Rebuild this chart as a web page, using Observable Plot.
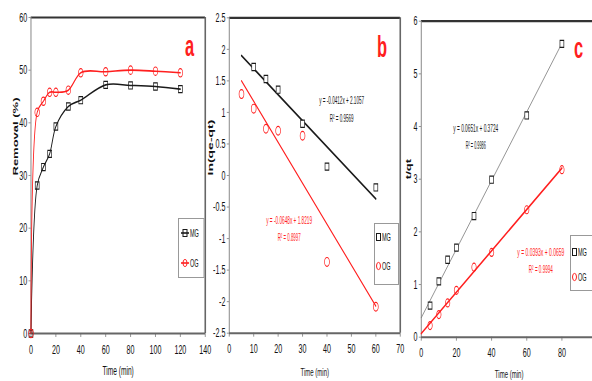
<!DOCTYPE html>
<html><head><meta charset="utf-8">
<script src="https://cdn.jsdelivr.net/npm/d3@7"></script>
<script src="https://cdn.jsdelivr.net/npm/@observablehq/plot@0.6"></script>
<style>
html,body{margin:0;padding:0;background:#fff;}
#wrap{position:relative;width:592px;height:381px;overflow:hidden;background:#fff;}
</style></head>
<body><div id="wrap"></div>
<script>
// ---- data ----
const seriesNames = ["MG", "OG"];
// panel a : removal (%) vs time
const timeA = [0, 5, 10, 15, 20, 30, 40, 60, 80, 100, 120];
const removalMG = [0, 28.1, 31.6, 34.1, 39.3, 43.1, 44.3, 47.2, 47.1, 46.9, 46.4];
const removalOG = [0, 42.0, 44.1, 45.8, 45.8, 46.2, 49.5, 49.7, 50.0, 49.8, 49.5];
// panel b : ln(qe-qt) vs time
const timeBMG = [10, 15, 20, 30, 40, 60];
const lnMG = [1.72, 1.53, 1.36, 0.82, 0.14, -0.19];
const timeBOG = [5, 10, 15, 20, 30, 40, 60];
const lnOG = [1.29, 1.06, 0.74, 0.71, 0.63, -1.37, -2.08];
const trendBX = [5, 60];
const trendBMG = [1.90, -0.37];
const trendBOG = [1.50, -2.07];
const eqBMG = ["y = -0.0412x + 2.1057", "R² = 0.9569"];
const eqBOG = ["y = -0.0648x + 1.8219", "R² = 0.8997"];
// panel c : t/qt vs time
const timeC = [5, 10, 15, 20, 30, 40, 60, 80];
const tqMG = [0.60, 1.06, 1.47, 1.70, 2.30, 2.99, 4.21, 5.57];
const tqOG = [0.22, 0.43, 0.65, 0.89, 1.33, 1.61, 2.42, 3.18];
const trendCX = [0, 80];
const trendCMG = [0.37, 5.58];
const trendCOG = [0.07, 3.21];
const eqCMG = ["y = 0.0651x + 0.3724", "R² = 0.9986"];
const eqCOG = ["y = 0.0393x + 0.0659", "R² = 0.9994"];
// ticks
const ticksAX = [0, 20, 40, 60, 80, 100, 120, 140];
const ticksAY = [0, 10, 20, 30, 40, 50, 60];
const ticksBX = [0, 10, 20, 30, 40, 50, 60, 70];
const ticksBY = [-2.5, -2, -1.5, -1, -0.5, 0, 0.5, 1, 1.5, 2, 2.5];
const ticksCX = [0, 20, 40, 60, 80];
const ticksCY = [0, 1, 2, 3, 4, 5, 6];

// ---- helpers ----
const S = 0.55;
const FONT = "'Liberation Sans', Arial, sans-serif";
const RED = "#ff1f1f";
const BLK = "#1a1a1a";
const wrap = document.getElementById("wrap");
const zip = (xs, ys) => xs.map((x, i) => ({x, y: ys[i]}));

function panel(cfg) {
  const {left, imgW, plotL, plotR, top, bottom} = cfg;
  const [x0, x1] = cfg.xDomain, [y0, y1] = cfg.yDomain;
  const p = Plot.plot({
    width: imgW / S, height: 381,
    marginLeft: (plotL - left) / S, marginRight: (left + imgW - plotR) / S,
    marginTop: top, marginBottom: 381 - bottom,
    style: {fontFamily: FONT, fontSize: "13px", background: "transparent", overflow: "visible", color: "#111"},
    x: {domain: cfg.xDomain}, y: {domain: cfg.yDomain},
    marks: [
      Plot.ruleY([y1], {stroke: "#333", strokeWidth: 2.2}),
      Plot.ruleX([x1], {stroke: "#666", strokeWidth: 1.6 / S}),
      Plot.ruleX([x0], {stroke: "#888", strokeWidth: 1 / S}),
      Plot.axisX({ticks: cfg.xTicks, tickSize: 4, tickPadding: 7, stroke: "#777", label: null, tickFormat: d => String(d), fontSize: 13}),
      Plot.axisY({ticks: cfg.yTicks, tickSize: 4, tickPadding: 3, stroke: "#777", label: null, tickFormat: d => String(d), fontSize: 13}),
      Plot.ruleY([y0], {stroke: "#666", strokeWidth: 2}),
      ...cfg.marks,
      Plot.text([cfg.xLabel], {frameAnchor: "bottom", dy: cfg.xLabelDy, fontSize: cfg.xLabelSize, fill: "#111"}),
      Plot.text([cfg.yLabel], {frameAnchor: "left", dx: cfg.yLabelDx / S, rotate: -90, fontSize: cfg.yLabelSize, fontWeight: "bold", fill: "#111"}),
      Plot.text([cfg.letter], {frameAnchor: "top-right", dx: cfg.letterDx / S, dy: cfg.letterDy, lineAnchor: "middle", fontSize: 30, fontWeight: "bold", fill: RED})
    ]
  });
  // condense equation annotations to the reference's width
  const eqs = new Map();
  (cfg.eqWidths || []).forEach(([t, w]) => eqs.set(t, w));
  d3.select(p).selectAll("text").each(function () {
    const t = this.textContent;
    if (eqs.has(t)) {
      d3.select(this).attr("textLength", eqs.get(t) / S).attr("lengthAdjust", "spacingAndGlyphs");
    }
  });
  p.style.position = "absolute";
  p.style.left = left + "px";
  p.style.top = "0px";
  p.style.transform = `scaleX(${S})`;
  p.style.transformOrigin = "0 0";
  wrap.appendChild(p);
}

function eqMarks(lines, x, ys, color) {
  return lines.map((t, i) => Plot.text([t], {x: () => x, y: () => ys[i], fill: color, fontSize: 11}));
}

// ---- panel a ----
const aMG = zip(timeA, removalMG), aOG = zip(timeA, removalOG);
panel({
  left: 0, imgW: 208, plotL: 30.7, plotR: 205, top: 17, bottom: 333,
  xDomain: [0, 140], yDomain: [0, 60], xTicks: ticksAX, yTicks: ticksAY,
  xLabel: "Time (min)", xLabelDy: 42, xLabelSize: 12, yLabel: "Removal (%)", yLabelDx: -15.5, yLabelSize: 13,
  letter: "a", letterDx: -11, letterDy: 29,
  marks: [
    Plot.line(aMG, {x: "x", y: "y", curve: "catmull-rom", stroke: BLK, strokeWidth: 1.6}),
    Plot.line(aOG, {x: "x", y: "y", curve: "catmull-rom", stroke: RED, strokeWidth: 1.6}),
    Plot.dot(aMG, {x: "x", y: "y", symbol: "square", r: 4, stroke: BLK, strokeWidth: 1.2, fill: "none"}),
    Plot.dot(aOG, {x: "x", y: "y", symbol: "circle", r: 4.2, stroke: RED, strokeWidth: 1.2, fill: "none"})
  ]
});

// ---- panel b ----
panel({
  left: 206, imgW: 197, plotL: 229, plotR: 400, top: 17.3, bottom: 332.7,
  xDomain: [0, 70], yDomain: [-2.5, 2.5], xTicks: ticksBX, yTicks: ticksBY,
  xLabel: "Time (min)", xLabelDy: 43, xLabelSize: 11, yLabel: "ln(qe-qt)", yLabelDx: -19, yLabelSize: 14,
  letter: "b", letterDx: -13.3, letterDy: 29.4,
  eqWidths: [[eqBMG[0], 45], [eqBMG[1], 24], [eqBOG[0], 46], [eqBOG[1], 23]],
  marks: [
    Plot.line(zip(trendBX, trendBMG), {x: "x", y: "y", stroke: BLK, strokeWidth: 2}),
    Plot.line(zip(trendBX, trendBOG), {x: "x", y: "y", stroke: RED, strokeWidth: 1.6}),
    Plot.dot(zip(timeBMG, lnMG), {x: "x", y: "y", symbol: "square", r: 4, stroke: BLK, strokeWidth: 1.2, fill: "white"}),
    Plot.dot(zip(timeBOG, lnOG), {x: "x", y: "y", symbol: "circle", r: 4.4, stroke: RED, strokeWidth: 1.2, fill: "none"}),
    ...eqMarks(eqBMG, 46, [1.19, 0.90], BLK),
    ...eqMarks(eqBOG, 24.5, [-0.72, -0.99], RED)
  ]
});

// ---- panel c ----
panel({
  left: 400, imgW: 200, plotL: 421, plotR: 596.8, top: 20.7, bottom: 336.7,
  xDomain: [0, 100], yDomain: [0, 6], xTicks: ticksCX, yTicks: ticksCY,
  xLabel: "Time (min)", xLabelDy: 41, xLabelSize: 11, yLabel: "t/qt", yLabelDx: -13, yLabelSize: 13,
  letter: "c", letterDx: -14, letterDy: 27,
  eqWidths: [[eqCMG[0], 45], [eqCMG[1], 20], [eqCOG[0], 47], [eqCOG[1], 24]],
  marks: [
    Plot.line(zip(trendCX, trendCMG), {x: "x", y: "y", stroke: "#777", strokeWidth: 1}),
    Plot.line(zip(trendCX, trendCOG), {x: "x", y: "y", stroke: RED, strokeWidth: 2}),
    Plot.dot(zip(timeC, tqMG), {x: "x", y: "y", symbol: "square", r: 4, stroke: BLK, strokeWidth: 1.2, fill: "white"}),
    Plot.dot(zip(timeC, tqOG), {x: "x", y: "y", symbol: "circle", r: 4, stroke: RED, strokeWidth: 1.2, fill: "none"}),
    ...eqMarks(eqCMG, 31, [3.97, 3.64], BLK),
    ...eqMarks(eqCOG, 68, [1.61, 1.29], RED)
  ]
});

// ---- legends ----
function legend(box, rows, withLine) {
  const svg = d3.select(wrap).append("svg")
    .style("position", "absolute").style("left", box.x + "px").style("top", box.y + "px")
    .attr("width", Math.min(box.w + 2, 591 - box.x)).attr("height", box.h + 2).style("overflow", "visible");
  svg.append("rect").attr("x", 0.5).attr("y", 0.5).attr("width", box.w).attr("height", box.h)
    .attr("fill", "white").attr("stroke", "#999").attr("stroke-width", 1);
  rows.forEach((r, i) => {
    const cy = box.rowY[i];
    const mx = box.markX;
    const c = i === 0 ? BLK : RED;
    if (withLine) svg.append("line").attr("x1", mx - 4).attr("x2", mx + 4).attr("y1", cy).attr("y2", cy)
      .attr("stroke", c).attr("stroke-width", 1.6);
    if (i === 0) svg.append("rect").attr("x", mx - 2).attr("y", cy - 3.5).attr("width", 4).attr("height", 7)
      .attr("fill", withLine ? "none" : "white").attr("stroke", c).attr("stroke-width", 1);
    else svg.append("ellipse").attr("cx", mx).attr("cy", cy).attr("rx", 2).attr("ry", 3.6)
      .attr("fill", "none").attr("stroke", c).attr("stroke-width", 1);
    svg.append("text").attr("transform", `translate(${box.textX},${cy}) scale(0.5,1)`).attr("dy", "0.35em")
      .attr("font-family", FONT).attr("font-size", 11).attr("fill", "#111").text(r);
  });
}
legend({x: 177.5, y: 218, w: 25.5, h: 59, rowY: [15, 45], markX: 7, textX: 12}, seriesNames, true);
legend({x: 373.5, y: 223, w: 24, h: 61, rowY: [14, 43], markX: 4.5, textX: 8}, seriesNames, false);
legend({x: 570, y: 235, w: 30, h: 55, rowY: [17, 42], markX: 4.5, textX: 8}, seriesNames, false);
</script>
</body></html>
